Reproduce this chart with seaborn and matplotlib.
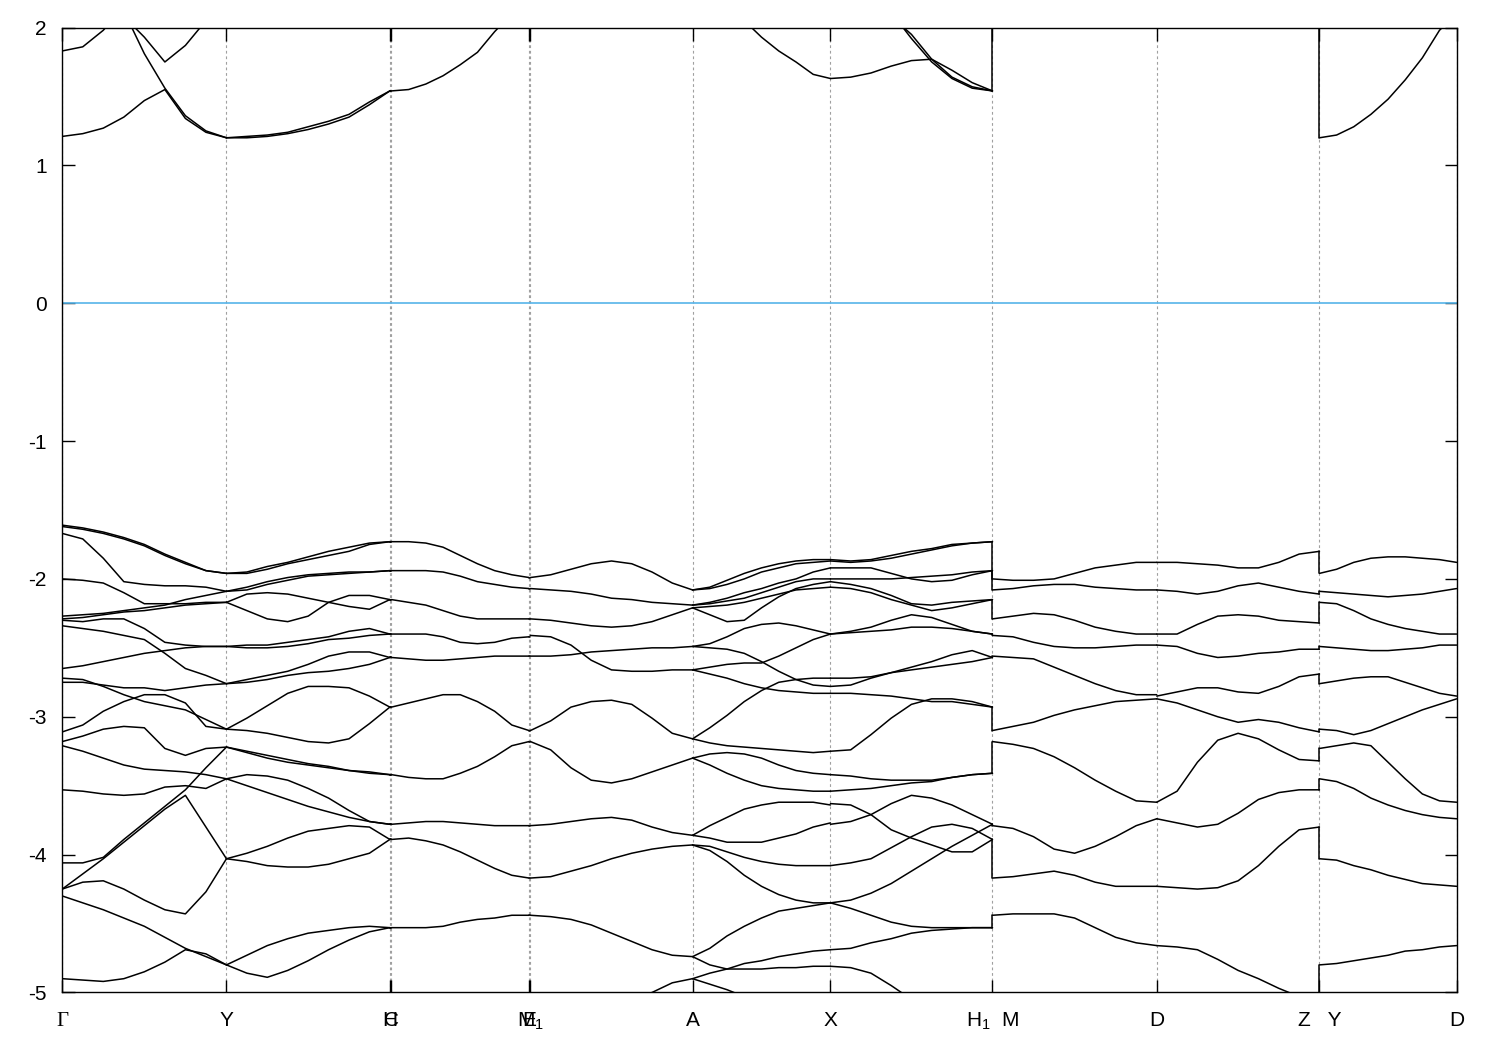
import numpy as np
import pandas as pd
import matplotlib
matplotlib.use("Agg")
import matplotlib.pyplot as plt
import seaborn as sns

# high-symmetry points of the path (k distance)
kpt_labels = ["Γ", "Y", "H", "C", "E", "M$_1$", "A", "X", "H$_1$  M", "D", "Z   Y", "D"]
kpt_pos = [0.0, 1.642, 3.276, 3.292, 4.668, 4.682, 6.303, 7.682, 9.302, 10.945, 12.572, 13.944]

# band energies (eV) sampled along each segment
gy_bands = [
    [-1.61, -1.63, -1.66, -1.70, -1.75, -1.82, -1.88, -1.94, -1.96],
    [-1.62, -1.64, -1.67, -1.71, -1.76, -1.83, -1.89, -1.94, -1.96],
    [-1.67, -1.71, -1.85, -2.02, -2.04, -2.05, -2.05, -2.06, -2.09],
    [-2.00, -2.01, -2.03, -2.10, -2.18, -2.18, -2.18, -2.17, -2.17],
    [-2.27, -2.26, -2.25, -2.23, -2.21, -2.19, -2.15, -2.12, -2.09],
    [-2.29, -2.28, -2.26, -2.24, -2.23, -2.21, -2.19, -2.18, -2.17],
    [-2.30, -2.31, -2.29, -2.29, -2.36, -2.46, -2.48, -2.49, -2.49],
    [-2.34, -2.36, -2.38, -2.41, -2.44, -2.54, -2.65, -2.70, -2.76],
    [-2.65, -2.63, -2.60, -2.57, -2.54, -2.52, -2.50, -2.49, -2.49],
    [-2.72, -2.73, -2.78, -2.84, -2.89, -2.92, -2.95, -3.02, -3.09],
    [-2.75, -2.75, -2.77, -2.79, -2.79, -2.81, -2.79, -2.77, -2.76],
    [-3.11, -3.06, -2.96, -2.89, -2.84, -2.84, -2.90, -3.07, -3.09],
    [-3.18, -3.14, -3.09, -3.07, -3.08, -3.23, -3.28, -3.23, -3.22],
    [-3.21, -3.25, -3.30, -3.35, -3.38, -3.39, -3.40, -3.42, -3.45],
    [-3.53, -3.54, -3.56, -3.57, -3.56, -3.51, -3.50, -3.52, -3.45],
    [-4.06, -4.06, -4.02, -3.89, -3.77, -3.65, -3.53, -3.37, -3.22],
    [-4.25, -4.14, -4.03, -3.91, -3.79, -3.67, -3.57, -3.80, -4.03],
    [-4.25, -4.20, -4.19, -4.25, -4.33, -4.40, -4.43, -4.27, -4.03],
    [-4.30, -4.35, -4.40, -4.46, -4.52, -4.60, -4.68, -4.74, -4.80],
    [-4.90, -4.91, -4.92, -4.90, -4.85, -4.78, -4.69, -4.72, -4.80],
]
yh_bands = [
    [-1.96, -1.95, -1.91, -1.88, -1.84, -1.80, -1.77, -1.74, -1.73],
    [-1.96, -1.96, -1.93, -1.89, -1.86, -1.83, -1.80, -1.75, -1.73],
    [-2.09, -2.06, -2.02, -1.99, -1.97, -1.96, -1.95, -1.95, -1.94],
    [-2.09, -2.08, -2.04, -2.01, -1.98, -1.97, -1.96, -1.95, -1.94],
    [-2.17, -2.11, -2.10, -2.11, -2.14, -2.17, -2.20, -2.22, -2.15],
    [-2.17, -2.23, -2.29, -2.31, -2.27, -2.17, -2.12, -2.12, -2.15],
    [-2.49, -2.48, -2.48, -2.46, -2.44, -2.42, -2.38, -2.36, -2.40],
    [-2.49, -2.50, -2.50, -2.49, -2.47, -2.44, -2.43, -2.41, -2.40],
    [-2.76, -2.73, -2.70, -2.67, -2.62, -2.56, -2.53, -2.53, -2.57],
    [-2.76, -2.75, -2.73, -2.70, -2.68, -2.67, -2.65, -2.62, -2.57],
    [-3.09, -3.01, -2.92, -2.83, -2.78, -2.78, -2.79, -2.85, -2.93],
    [-3.09, -3.10, -3.12, -3.15, -3.18, -3.19, -3.16, -3.05, -2.93],
    [-3.22, -3.26, -3.30, -3.33, -3.35, -3.37, -3.39, -3.40, -3.42],
    [-3.22, -3.25, -3.28, -3.31, -3.34, -3.36, -3.39, -3.41, -3.42],
    [-3.45, -3.42, -3.43, -3.46, -3.52, -3.59, -3.68, -3.76, -3.78],
    [-3.45, -3.50, -3.55, -3.60, -3.65, -3.69, -3.73, -3.76, -3.78],
    [-4.03, -3.99, -3.94, -3.88, -3.83, -3.81, -3.79, -3.80, -3.89],
    [-4.03, -4.05, -4.08, -4.09, -4.09, -4.07, -4.03, -3.99, -3.89],
    [-4.80, -4.73, -4.66, -4.61, -4.57, -4.55, -4.53, -4.52, -4.53],
    [-4.80, -4.86, -4.89, -4.84, -4.77, -4.69, -4.62, -4.56, -4.53],
]
ce_bands = [
    [-1.73, -1.73, -1.74, -1.77, -1.83, -1.89, -1.94, -1.97, -1.99],
    [-1.94, -1.94, -1.94, -1.95, -1.98, -2.02, -2.04, -2.06, -2.07],
    [-2.15, -2.17, -2.19, -2.23, -2.27, -2.29, -2.29, -2.29, -2.29],
    [-2.40, -2.40, -2.40, -2.42, -2.46, -2.47, -2.46, -2.43, -2.42],
    [-2.57, -2.58, -2.59, -2.59, -2.58, -2.57, -2.56, -2.56, -2.56],
    [-2.93, -2.90, -2.87, -2.84, -2.84, -2.89, -2.96, -3.06, -3.10],
    [-3.42, -3.44, -3.45, -3.45, -3.41, -3.36, -3.29, -3.21, -3.18],
    [-3.78, -3.77, -3.76, -3.76, -3.77, -3.78, -3.79, -3.79, -3.79],
    [-3.89, -3.88, -3.90, -3.93, -3.98, -4.04, -4.10, -4.15, -4.17],
    [-4.53, -4.53, -4.53, -4.52, -4.49, -4.47, -4.46, -4.44, -4.44],
]
ma_bands = [
    [-1.99, -1.97, -1.93, -1.89, -1.87, -1.89, -1.95, -2.03, -2.08],
    [-2.07, -2.08, -2.09, -2.11, -2.14, -2.15, -2.17, -2.18, -2.19],
    [-2.29, -2.30, -2.32, -2.34, -2.35, -2.34, -2.31, -2.26, -2.21],
    [-2.41, -2.42, -2.48, -2.59, -2.66, -2.67, -2.67, -2.66, -2.66],
    [-2.56, -2.56, -2.55, -2.53, -2.52, -2.51, -2.50, -2.50, -2.49],
    [-3.10, -3.03, -2.93, -2.89, -2.88, -2.91, -3.01, -3.12, -3.16],
    [-3.18, -3.24, -3.37, -3.46, -3.48, -3.45, -3.40, -3.35, -3.30],
    [-3.79, -3.78, -3.76, -3.74, -3.73, -3.75, -3.80, -3.84, -3.86],
    [-4.17, -4.16, -4.12, -4.08, -4.03, -3.99, -3.96, -3.94, -3.93],
    [-4.44, -4.45, -4.47, -4.51, -4.57, -4.63, -4.69, -4.73, -4.74],
    [-5.50, -5.40, -5.30, -5.20, -5.12, -5.05, -5.00, -4.93, -4.90],
]
ax_bands = [
    [-2.08, -2.06, -2.01, -1.96, -1.92, -1.89, -1.87, -1.86, -1.86],
    [-2.08, -2.07, -2.04, -2.00, -1.95, -1.92, -1.89, -1.88, -1.87],
    [-2.19, -2.17, -2.14, -2.10, -2.07, -2.03, -2.00, -1.95, -1.92],
    [-2.19, -2.18, -2.16, -2.14, -2.10, -2.06, -2.02, -2.00, -2.00],
    [-2.21, -2.26, -2.31, -2.30, -2.21, -2.13, -2.07, -2.04, -2.02],
    [-2.21, -2.20, -2.19, -2.17, -2.14, -2.11, -2.08, -2.07, -2.06],
    [-2.49, -2.47, -2.42, -2.36, -2.33, -2.32, -2.34, -2.37, -2.40],
    [-2.49, -2.50, -2.51, -2.54, -2.60, -2.67, -2.73, -2.77, -2.78],
    [-2.66, -2.64, -2.62, -2.61, -2.61, -2.56, -2.50, -2.44, -2.40],
    [-2.66, -2.69, -2.72, -2.76, -2.79, -2.81, -2.82, -2.83, -2.83],
    [-3.16, -3.08, -2.99, -2.89, -2.81, -2.75, -2.73, -2.72, -2.72],
    [-3.16, -3.19, -3.21, -3.22, -3.23, -3.24, -3.25, -3.26, -3.25],
    [-3.30, -3.27, -3.26, -3.27, -3.30, -3.35, -3.39, -3.41, -3.42],
    [-3.30, -3.35, -3.41, -3.46, -3.50, -3.52, -3.53, -3.54, -3.54],
    [-3.86, -3.79, -3.73, -3.67, -3.64, -3.62, -3.62, -3.62, -3.64],
    [-3.86, -3.88, -3.91, -3.91, -3.91, -3.88, -3.85, -3.80, -3.77],
    [-3.93, -3.94, -3.98, -4.02, -4.05, -4.07, -4.08, -4.08, -4.08],
    [-3.93, -3.97, -4.05, -4.15, -4.23, -4.29, -4.33, -4.35, -4.35],
    [-4.74, -4.68, -4.59, -4.52, -4.46, -4.41, -4.39, -4.37, -4.35],
    [-4.74, -4.80, -4.83, -4.83, -4.83, -4.82, -4.82, -4.81, -4.81],
    [-4.90, -4.86, -4.83, -4.79, -4.77, -4.74, -4.72, -4.70, -4.69],
    [-4.90, -4.94, -4.98, -5.03, -5.09, -5.15, -5.20, -5.25, -5.30],
]
xh_bands = [
    [-1.86, -1.87, -1.86, -1.83, -1.80, -1.78, -1.75, -1.74, -1.73],
    [-1.87, -1.88, -1.87, -1.85, -1.82, -1.79, -1.76, -1.74, -1.73],
    [-1.92, -1.92, -1.92, -1.96, -2.00, -2.02, -2.01, -1.97, -1.94],
    [-2.00, -2.00, -2.00, -2.00, -1.99, -1.98, -1.97, -1.95, -1.94],
    [-2.02, -2.04, -2.07, -2.12, -2.18, -2.19, -2.17, -2.16, -2.15],
    [-2.06, -2.07, -2.10, -2.15, -2.19, -2.23, -2.21, -2.18, -2.15],
    [-2.40, -2.38, -2.35, -2.30, -2.26, -2.28, -2.33, -2.38, -2.40],
    [-2.40, -2.39, -2.38, -2.37, -2.35, -2.35, -2.36, -2.38, -2.40],
    [-2.72, -2.72, -2.71, -2.68, -2.64, -2.60, -2.55, -2.52, -2.57],
    [-2.78, -2.77, -2.72, -2.68, -2.66, -2.64, -2.62, -2.60, -2.57],
    [-2.83, -2.83, -2.84, -2.85, -2.87, -2.89, -2.89, -2.91, -2.93],
    [-3.25, -3.24, -3.13, -3.01, -2.91, -2.87, -2.87, -2.89, -2.93],
    [-3.42, -3.43, -3.45, -3.46, -3.46, -3.46, -3.44, -3.42, -3.41],
    [-3.54, -3.53, -3.52, -3.50, -3.48, -3.47, -3.44, -3.42, -3.41],
    [-3.63, -3.64, -3.71, -3.82, -3.88, -3.93, -3.98, -3.98, -3.89],
    [-3.78, -3.76, -3.71, -3.63, -3.57, -3.59, -3.64, -3.71, -3.78],
    [-4.08, -4.06, -4.03, -3.95, -3.87, -3.80, -3.78, -3.81, -3.89],
    [-4.35, -4.33, -4.28, -4.21, -4.12, -4.03, -3.94, -3.86, -3.78],
    [-4.35, -4.39, -4.44, -4.49, -4.52, -4.53, -4.53, -4.53, -4.53],
    [-4.69, -4.68, -4.64, -4.61, -4.57, -4.55, -4.54, -4.53, -4.53],
    [-4.81, -4.82, -4.86, -4.95, -5.05, -5.15, -5.25, -5.35, -5.45],
]
md_bands = [
    [-2.00, -2.01, -2.01, -2.00, -1.96, -1.92, -1.90, -1.88, -1.88],
    [-2.08, -2.07, -2.05, -2.04, -2.04, -2.06, -2.07, -2.08, -2.08],
    [-2.29, -2.27, -2.25, -2.26, -2.30, -2.35, -2.38, -2.40, -2.40],
    [-2.41, -2.42, -2.46, -2.49, -2.50, -2.50, -2.49, -2.48, -2.48],
    [-2.56, -2.57, -2.58, -2.64, -2.70, -2.76, -2.81, -2.84, -2.84],
    [-3.10, -3.07, -3.04, -2.99, -2.95, -2.92, -2.89, -2.88, -2.87],
    [-3.18, -3.20, -3.23, -3.29, -3.37, -3.46, -3.54, -3.61, -3.62],
    [-3.79, -3.81, -3.87, -3.96, -3.99, -3.94, -3.87, -3.79, -3.74],
    [-4.17, -4.16, -4.14, -4.12, -4.15, -4.20, -4.23, -4.23, -4.23],
    [-4.44, -4.43, -4.43, -4.43, -4.46, -4.53, -4.60, -4.64, -4.66],
]
dz_bands = [
    [-1.88, -1.88, -1.89, -1.90, -1.92, -1.92, -1.88, -1.82, -1.80],
    [-2.08, -2.09, -2.11, -2.09, -2.05, -2.03, -2.06, -2.09, -2.11],
    [-2.40, -2.40, -2.33, -2.27, -2.26, -2.27, -2.30, -2.31, -2.32],
    [-2.48, -2.49, -2.54, -2.57, -2.56, -2.54, -2.53, -2.51, -2.51],
    [-2.85, -2.82, -2.79, -2.79, -2.82, -2.83, -2.78, -2.71, -2.69],
    [-2.87, -2.90, -2.95, -3.00, -3.04, -3.02, -3.04, -3.08, -3.11],
    [-3.62, -3.54, -3.33, -3.17, -3.12, -3.16, -3.24, -3.31, -3.32],
    [-3.74, -3.77, -3.80, -3.78, -3.70, -3.60, -3.55, -3.53, -3.53],
    [-4.23, -4.24, -4.25, -4.24, -4.19, -4.08, -3.94, -3.82, -3.80],
    [-4.66, -4.67, -4.69, -4.76, -4.84, -4.90, -4.97, -5.03, -5.10],
]
yd_bands = [
    [-1.96, -1.93, -1.88, -1.85, -1.84, -1.84, -1.85, -1.86, -1.88],
    [-2.09, -2.10, -2.11, -2.12, -2.13, -2.12, -2.11, -2.09, -2.07],
    [-2.17, -2.18, -2.23, -2.29, -2.33, -2.36, -2.38, -2.40, -2.40],
    [-2.49, -2.50, -2.51, -2.52, -2.52, -2.51, -2.50, -2.48, -2.48],
    [-2.76, -2.74, -2.72, -2.71, -2.71, -2.75, -2.79, -2.83, -2.85],
    [-3.09, -3.10, -3.13, -3.10, -3.05, -3.00, -2.95, -2.91, -2.87],
    [-3.23, -3.21, -3.19, -3.21, -3.33, -3.45, -3.56, -3.61, -3.62],
    [-3.45, -3.47, -3.52, -3.59, -3.64, -3.68, -3.71, -3.73, -3.74],
    [-4.03, -4.04, -4.08, -4.11, -4.15, -4.18, -4.21, -4.22, -4.23],
    [-4.80, -4.79, -4.77, -4.75, -4.73, -4.70, -4.69, -4.67, -4.66],
]

# conduction bands
gy_cond = [
    [1.21, 1.23, 1.27, 1.35, 1.47, 1.55, 1.34, 1.24, 1.20],
    [2.65, 2.50, 2.33, 2.12, 1.81, 1.56, 1.36, 1.25, 1.20],
    [2.80, 2.60, 2.35, 2.08, 1.93, 1.75, 1.87, 2.05, 2.20],
    [1.83, 1.86, 1.98, 2.15, 2.30, 2.45, 2.60, 2.70, 2.80],
]
yh_cond = [
    [1.20, 1.21, 1.22, 1.24, 1.28, 1.32, 1.37, 1.46, 1.54],
    [1.20, 1.20, 1.21, 1.23, 1.26, 1.30, 1.35, 1.44, 1.54],
]
ce_cond = [[1.54, 1.55, 1.59, 1.65, 1.73, 1.82, 1.97, 2.10, 2.20]]
ax_cond = [[2.35, 2.25, 2.15, 2.05, 1.93, 1.83, 1.75, 1.66, 1.63]]
xh_cond = [
    [1.63, 1.64, 1.67, 1.72, 1.76, 1.77, 1.69, 1.60, 1.54],
    [2.40, 2.30, 2.20, 2.08, 1.95, 1.77, 1.64, 1.57, 1.54],
    [2.45, 2.35, 2.25, 2.11, 1.92, 1.75, 1.63, 1.56, 1.54],
]
yd_cond = [[1.20, 1.22, 1.28, 1.37, 1.48, 1.62, 1.78, 1.98, 2.10]]

# band values on both sides of the path breaks H1|M and Z|Y
h1m_left = [1.54, -1.73, -1.94, -2.15, -2.40, -2.57, -2.93, -3.41, -3.78, -3.89, -4.53]
h1m_right = [2.50, -2.00, -2.08, -2.29, -2.41, -2.56, -3.10, -3.18, -3.79, -4.17, -4.44]
zy_left = [2.50, -1.80, -2.11, -2.32, -2.51, -2.69, -3.11, -3.32, -3.53, -3.80, -5.10]
zy_right = [1.20, -1.96, -2.09, -2.17, -2.49, -2.76, -3.09, -3.23, -3.45, -4.03, -4.80]

segments = [
    (0, 1, gy_bands + gy_cond),
    (1, 2, yh_bands + yh_cond),
    (2, 3, [[b[-1], b[-1]] for b in yh_bands + yh_cond]),
    (3, 4, ce_bands + ce_cond),
    (4, 5, [[b[-1], b[-1]] for b in ce_bands]),
    (5, 6, ma_bands),
    (6, 7, ax_bands + ax_cond),
    (7, 8, xh_bands + xh_cond),
    (8, 9, md_bands),
    (9, 10, dz_bands),
    (10, 11, yd_bands + yd_cond),
]

rows = []
line_id = 0
for i0, i1, bands in segments:
    for band in bands:
        ks = np.linspace(kpt_pos[i0], kpt_pos[i1], len(band))
        for k, e in zip(ks, band):
            rows.append((line_id, k, e))
        line_id += 1
for kbreak, left, right in [(kpt_pos[8], h1m_left, h1m_right),
                            (kpt_pos[10], zy_left, zy_right)]:
    for l, r in zip(left, right):
        rows.append((line_id, kbreak, l))
        rows.append((line_id, kbreak, r))
        line_id += 1
df = pd.DataFrame(rows, columns=["line", "k", "E"])

sns.set_style("ticks")
plt.rcParams["font.family"] = ["Liberation Sans", "DejaVu Sans"]
plt.rcParams["mathtext.default"] = "regular"
plt.rcParams["axes.unicode_minus"] = False

fig = plt.figure(figsize=(15, 10.5), dpi=100)
ax = fig.add_axes([0.0415, 0.0548, 0.9296, 0.9190])

for k in kpt_pos:
    ax.axvline(k, color="#a0a0a0", lw=0.8, ls=(0, (2.5, 2.5)), zorder=0.5)
ax.axhline(0, color="#56b4e9", lw=1.2, zorder=1)

sns.lineplot(data=df, x="k", y="E", units="line", estimator=None, sort=False,
             color="black", linewidth=1.1, legend=False, ax=ax, zorder=2)

ax.set_xlim(kpt_pos[0], kpt_pos[-1])
ax.set_ylim(-5, 2)
ax.set_yticks(range(-5, 3))
ax.set_yticklabels([str(v) for v in range(-5, 3)])
ax.set_xticks(kpt_pos)
ax.set_xticklabels(kpt_labels)
ax.set_xlabel("")
ax.set_ylabel("")
ax.tick_params(axis="both", direction="in", length=9, width=1.0, top=True, right=True,
               labelsize=15, colors="black")
ax.tick_params(axis="x", pad=24.5)
ax.tick_params(axis="y", pad=11)
for lbl in ax.get_xticklabels():
    lbl.set_verticalalignment("baseline")
    if lbl.get_text() == "Γ":
        lbl.set_fontfamily("Liberation Serif")
for sp in ax.spines.values():
    sp.set_linewidth(1.0)
    sp.set_color("black")

fig.savefig("out.png", dpi=100)
